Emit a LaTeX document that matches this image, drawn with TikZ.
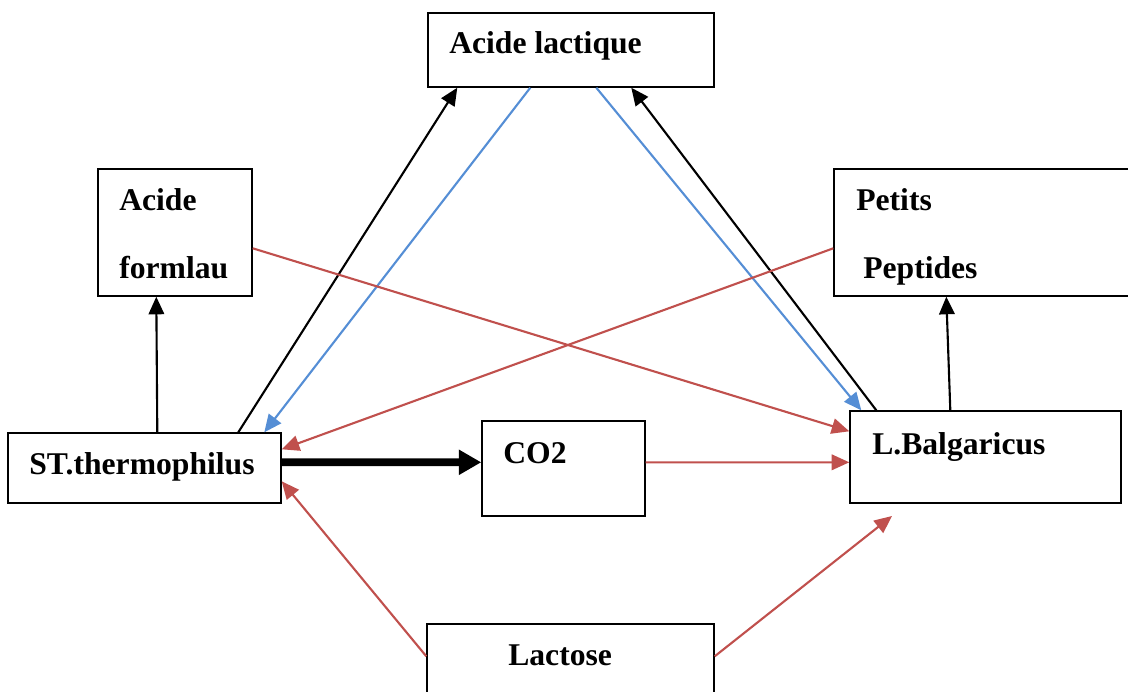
\documentclass[tikz,border=0pt]{standalone}
\usepackage{fontspec}
\setmainfont{Liberation Serif}
\usetikzlibrary{arrows.meta,fit}
\definecolor{rojo}{HTML}{C0504D}
\definecolor{azul}{HTML}{558ED5}
\tikzset{
  caja/.style={draw, line width=1pt, inner sep=0pt},
  texto/.style={anchor=base west, inner sep=0pt, font=\bfseries\fontsize{22.5}{27}\selectfont},
  flecha/.style={line width=1.5pt, -{Triangle[length=12.5pt,width=11pt]}},
  roja/.style={flecha, rojo},
  azula/.style={flecha, azul},
  gruesa/.style={line width=5.5pt, -{Triangle[length=16pt,width=17pt]}}
}
\begin{document}
\begin{tikzpicture}[x=0.025cm,y=-0.025cm]
              \useasboundingbox (0,0) rectangle (1128,691);

              % Cajas
              \node[caja, fit={(428,13) (714,87)}] (lactique) {};
              \node[caja, fit={(98,169) (252,296)}] (formlau) {};
              \node[caja, fit={(834,169) (1140,296)}] (peptides) {};
              \node[caja, fit={(8,433) (281,503)}] (st) {};
              \node[caja, fit={(482,421) (645,516)}] (cotwo) {};
              \node[caja, fit={(850,411) (1121,503)}] (lb) {};
              \node[caja, fit={(427,624) (714,710)}] (lactose) {};
              \coordinate (lbbas) at (892,516);

              % Textos
              \node[texto] (lactique-t) at (449,53) {Acide lactique};
              \node[texto] (formlau-t1) at (119,210) {Acide};
              \node[texto] (formlau-t2) at (119,278) {formlau};
              \node[texto] (peptides-t1) at (856,210) {Petits};
              \node[texto] (peptides-t2) at (863,278) {Peptides};
              \node[texto] (st-t) at (29,474) {ST.thermophilus};
              \node[texto] (cotwo-t) at (503,463) {CO2};
              \node[texto] (lb-t) at (872,454) {L.Balgaricus};
              \node[texto] (lactose-t) at (508,665) {Lactose};

              % Flechas negras
              \draw[flecha] ([shift={(150,0)}]st.north west) -- ([shift={(59,0)}]formlau.south west);
              \draw[flecha] ([shift={(101,0)}]lb.north west) -- ([shift={(113,0)}]peptides.south west);
              \draw[flecha] ([shift={(231,0)}]st.north west) -- ([shift={(30,0)}]lactique.south west);
              \draw[flecha] ([shift={(27,0)}]lb.north west) -- ([shift={(204,0)}]lactique.south west);

              % Flechas azules
              \draw[azula] ([shift={(103,0)}]lactique.south west) -- ([shift={(257,0)}]st.north west);
              \draw[azula] ([shift={(169,0)}]lactique.south west) -- ([shift={(12,0)}]lb.north west);

              % Flechas rojas
              \draw[roja] ([shift={(0,80)}]formlau.north east) -- ([shift={(0,21)}]lb.north west);
              \draw[roja] ([shift={(0,80)}]peptides.north west) -- ([shift={(0,17)}]st.north east);
              \draw[roja] ([shift={(0,42)}]cotwo.north east) -- ([shift={(0,52)}]lb.north west);
              \draw[roja] ([shift={(0,33)}]lactose.north west) -- ([shift={(0,49)}]st.north east);
              \draw[roja] ([shift={(0,33)}]lactose.north east) -- (lbbas);

              % CO2
              \draw[gruesa] ([shift={(0,30)}]st.north east) -- ([shift={(0,42)}]cotwo.north west);

            \end{tikzpicture}
\end{document}
